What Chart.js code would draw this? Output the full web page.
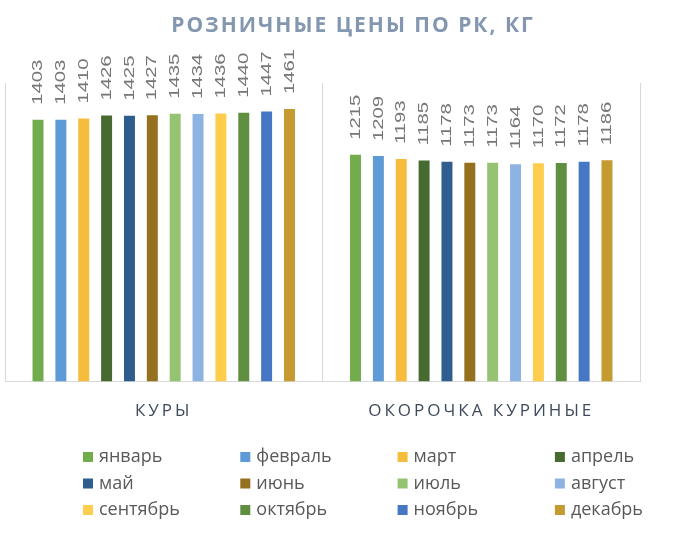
<!DOCTYPE html>
<html>
<head>
<meta charset="utf-8">
<script src="https://cdn.jsdelivr.net/npm/chart.js@4.4.1/dist/chart.umd.min.js"></script>
<style>
html,body{margin:0;padding:0;background:#fff;}
#wrap{width:688px;height:546px;}
</style>
</head>
<body>
<div id="wrap"><canvas id="myChart" width="688" height="546"></canvas></div>
<script>
var chartTitle = "РОЗНИЧНЫЕ ЦЕНЫ ПО РК, КГ";
var categories = ["КУРЫ", "ОКОРОЧКА КУРИНЫЕ"];
var months = ["январь","февраль","март","апрель","май","июнь","июль","август","сентябрь","октябрь","ноябрь","декабрь"];
var kury =     [1403,1403,1410,1426,1425,1427,1435,1434,1436,1440,1447,1461];
var okorochka = [1215,1209,1193,1185,1178,1173,1173,1164,1170,1172,1178,1186];
var colors = ["#72ac4d","#5e9bd6","#f5bd3b","#476a31","#2f5d8d","#94701f","#94c371","#8db3e2","#fdcd4b","#5f8f3f","#4677c4","#c49a31"];

var datasets = [];
for (var i = 0; i < months.length; i++) {
  datasets.push({
    label: months[i],
    data: [kury[i], okorochka[i]],
    backgroundColor: colors[i],
    borderWidth: 0,
    categoryPercentage: 0.864,
    barPercentage: 0.48
  });
}

// spacing for category labels
var spacing = {
  id: "spacing",
  beforeDraw: function(chart) {
    chart.ctx.letterSpacing = "3px";
  }
};

// values above bars, rotated
var valueLabels = {
  id: "valueLabels",
  afterDatasetsDraw: function(chart) {
    var ctx = chart.ctx;
    ctx.save();
    ctx.letterSpacing = "0px";
    ctx.font = "15px 'Liberation Sans'";
    ctx.fillStyle = "#767676";
    ctx.textAlign = "left";
    ctx.textBaseline = "middle";
    chart.data.datasets.forEach(function(ds, di) {
      var meta = chart.getDatasetMeta(di);
      meta.data.forEach(function(bar, j) {
        ctx.save();
        ctx.translate(bar.x, bar.y - 15);
        ctx.rotate(-Math.PI / 2);
        ctx.scale(1.35, 1);
        ctx.fillText(String(ds.data[j]), 0, 0);
        ctx.restore();
      });
    });
    ctx.restore();
  }
};

// title + legend in 4 columns under the chart
var extras = {
  id: "extras",
  afterDraw: function(chart) {
    var ctx = chart.ctx;
    ctx.save();
    ctx.letterSpacing = "2px";
    ctx.font = "bold 21px 'Open Sans'";
    ctx.fillStyle = "#8497b0";
    ctx.textAlign = "center";
    ctx.textBaseline = "middle";
    ctx.fillText(chartTitle, 353, 26);

    ctx.letterSpacing = "0px";
    ctx.font = "18px 'Open Sans'";
    ctx.textAlign = "left";
    for (var i = 0; i < months.length; i++) {
      var col = i % 4, row = Math.floor(i / 4);
      var x = 83 + col * 157.3;
      var y = 457 + row * 26.5;
      ctx.fillStyle = colors[i];
      ctx.fillRect(x, y - 5, 10, 10);
      ctx.fillStyle = "#595959";
      ctx.fillText(months[i], x + 16, y);
    }
    ctx.restore();
  }
};

new Chart("myChart", {
  type: "bar",
  data: {
    labels: categories,
    datasets: datasets
  },
  options: {
    responsive: false,
    animation: false,
    layout: {
      padding: { left: 5, right: 48, top: 83, bottom: 106 }
    },
    plugins: {
      legend: { display: false },
      tooltip: { enabled: false },
      title: { display: false }
    },
    scales: {
      x: {
        grid: {
          display: true,
          offset: true,
          color: "#d9d9d9",
          drawTicks: false
        },
        border: { display: true, color: "#d9d9d9" },
        ticks: {
          color: "#3f4a5c",
          padding: 19,
          font: { family: "'Open Sans'", size: 17 }
        }
      },
      y: {
        display: false,
        min: 0,
        max: 1600
      }
    }
  },
  plugins: [spacing, valueLabels, extras]
});
</script>
</body>
</html>
